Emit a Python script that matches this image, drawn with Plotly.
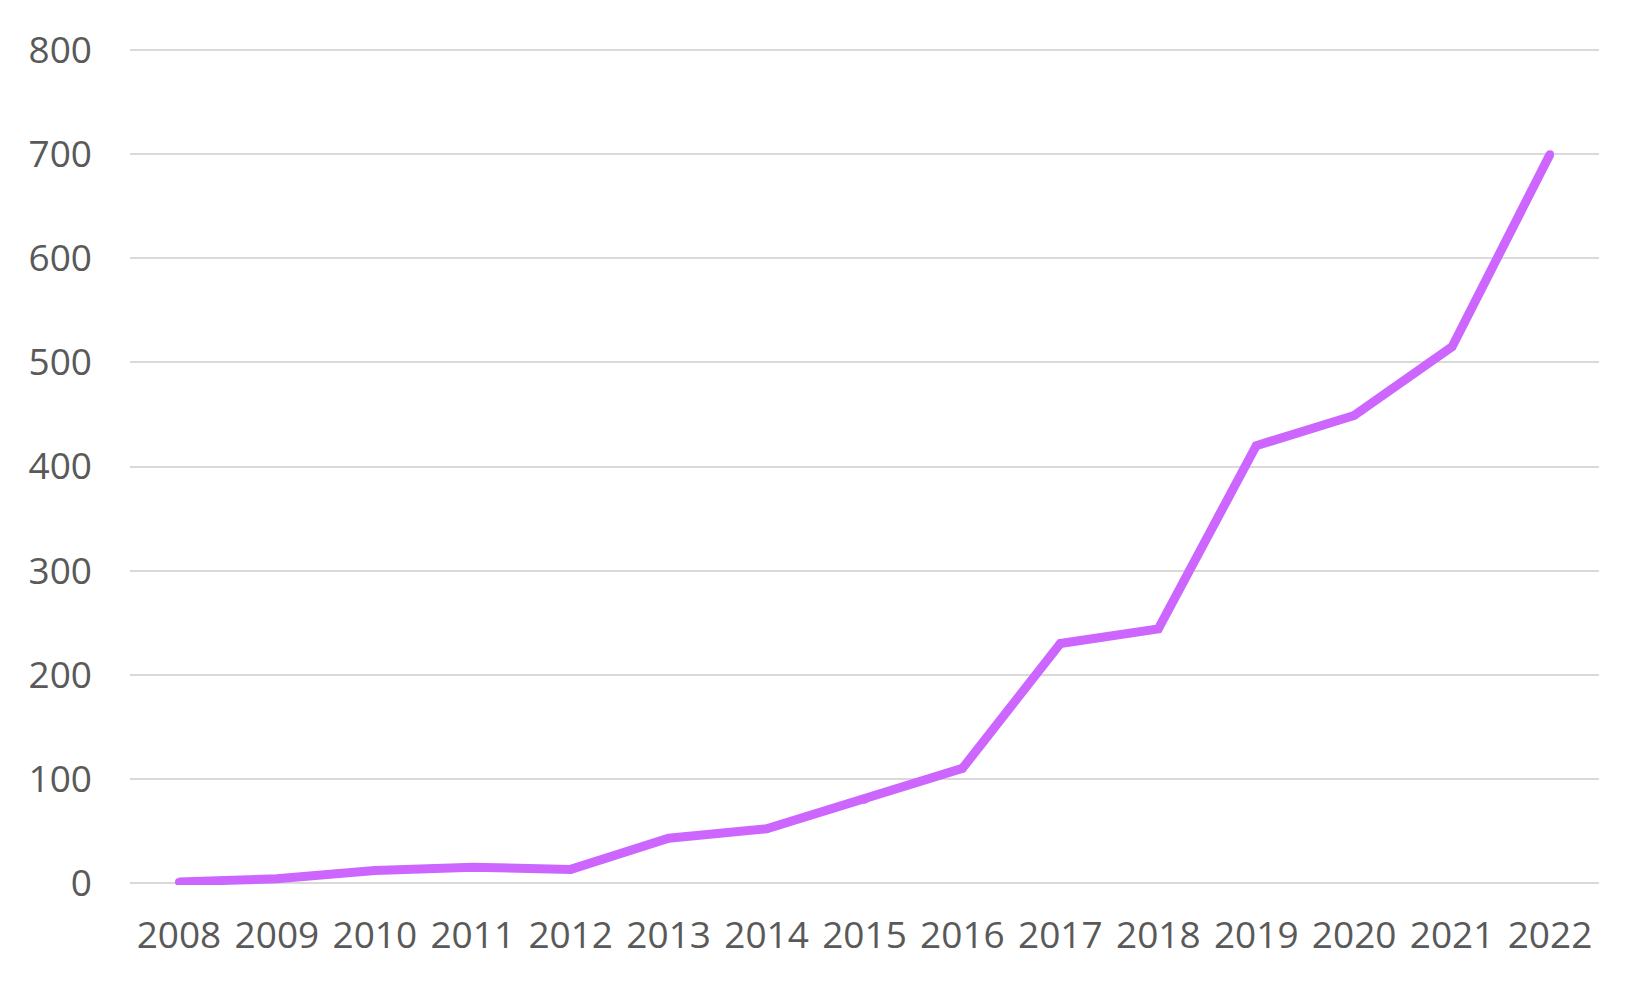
import plotly.graph_objects as go

years = ['2008', '2009', '2010', '2011', '2012', '2013', '2014', '2015',
         '2016', '2017', '2018', '2019', '2020', '2021', '2022']
counts = [1, 4, 12, 15, 13, 43, 52, 80, 110, 230, 244, 420, 449, 515, 700]

y_ticks = [0, 100, 200, 300, 400, 500, 600, 700, 800]

fig = go.Figure()
fig.add_trace(go.Scatter(
    x=years,
    y=counts,
    mode='lines+markers',
    line={'color': '#CC66FF', 'width': 9, 'shape': 'linear'},
    # markers stand in for the round caps / joins of the original
    marker={'color': '#CC66FF', 'size': 8, 'line': {'width': 0}},
    showlegend=False,
    hoverinfo='x+y',
))

# page body has an 8px margin, so the figure is a bit smaller than the window
fig.update_layout(
    width=1634,
    height=974,
    margin={'l': 122, 'r': 43, 't': 40, 'b': 97},
    paper_bgcolor='white',
    plot_bgcolor='white',
    font={'family': 'Open Sans, sans-serif', 'size': 37, 'color': '#595959'},
)
fig.update_xaxes(
    type='category',
    range=[-0.5, len(years) - 0.5],
    showgrid=False,
    showline=False,
    zeroline=False,
    ticks='',
    ticklabelstandoff=25,
)
# a little headroom so the 0 and 800 gridlines are drawn
fig.update_yaxes(
    range=[-2, 802],
    tickvals=y_ticks,
    showgrid=True,
    gridcolor='#D9D9D9',
    gridwidth=2,
    zeroline=False,
    showline=False,
    ticks='',
    ticklabelstandoff=37,
)

fig.write_html("out.html")
